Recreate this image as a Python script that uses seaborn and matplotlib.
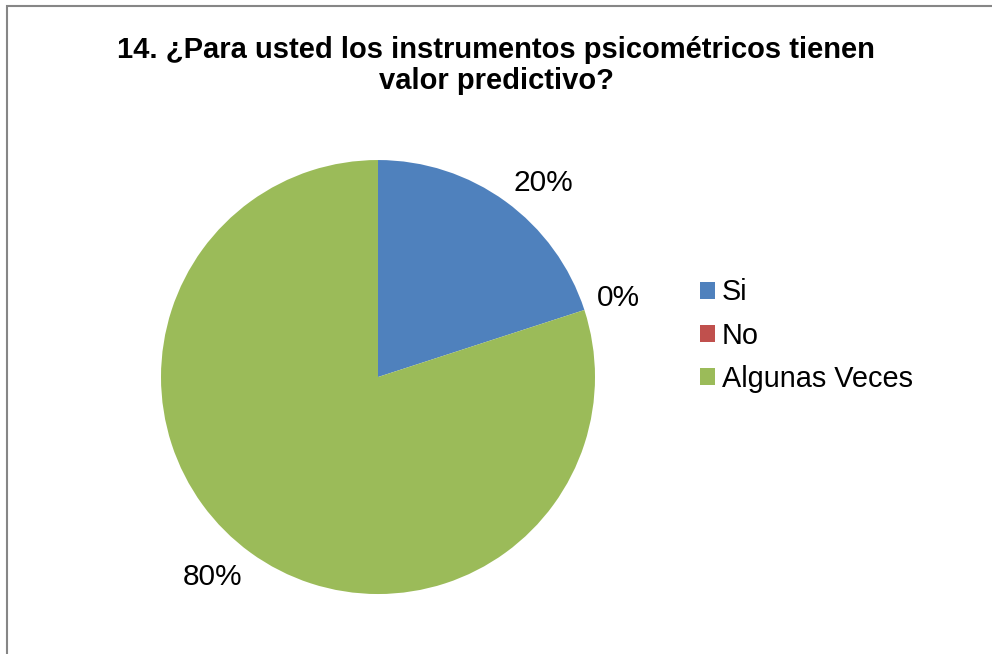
import matplotlib
matplotlib.use("Agg")
import numpy as np
import matplotlib.pyplot as plt
import seaborn as sns
from matplotlib.patches import Rectangle

categories = ["Si", "No", "Algunas Veces"]
values = [20, 0, 80]
colors = ["#4F81BD", "#C0504D", "#9BBB59"]
title = "14. ¿Para usted los instrumentos psicométricos tienen\nvalor predictivo?"

sns.set_theme(style="white")
plt.rcParams['font.family'] = ['Liberation Sans', 'DejaVu Sans']
plt.rcParams['text.color'] = 'black'

fig = plt.figure(figsize=(9.92, 6.54), dpi=100)

# chart border (cut off at right and bottom like the screenshot)
fig.patches.append(Rectangle((7 / 992, -0.1), 1.2, (654 - 6) / 654 + 0.1,
                             transform=fig.transFigure, fill=False,
                             edgecolor="#868686", linewidth=1.5))

ax = fig.add_axes([0.1623, 0.0917, 0.4375, 0.6636])
wedges, texts = ax.pie(values, colors=colors, startangle=90, counterclock=False,
                       wedgeprops=dict(linewidth=0))
ax.set_xlim(-1, 1)
ax.set_ylim(-1, 1)
ax.set_aspect("equal")

# percentage labels placed just outside the slice edge, like "outside end"
total = sum(values)
for w, v in zip(wedges, values):
    ang = np.deg2rad((w.theta1 + w.theta2) / 2)
    c, s = np.cos(ang), np.sin(ang)
    ax.text(1.06 * c, 1.06 * s, f"{v / total:.0%}", fontsize=21.5, color="black",
            ha="left" if c > 0 else "right", va="baseline" if s > 0 else "top")

fig.text(0.5, 0.945, title, ha="center", va="top", fontsize=21, fontweight="bold",
         color="black", linespacing=1.15)

fig.legend(wedges, categories, loc="center left", bbox_to_anchor=(0.679, 0.487),
           frameon=False, fontsize=20.8, handlelength=0.52, handleheight=0.52,
           handletextpad=0.24, labelspacing=0.52)

fig.savefig("out.png", dpi=100)
